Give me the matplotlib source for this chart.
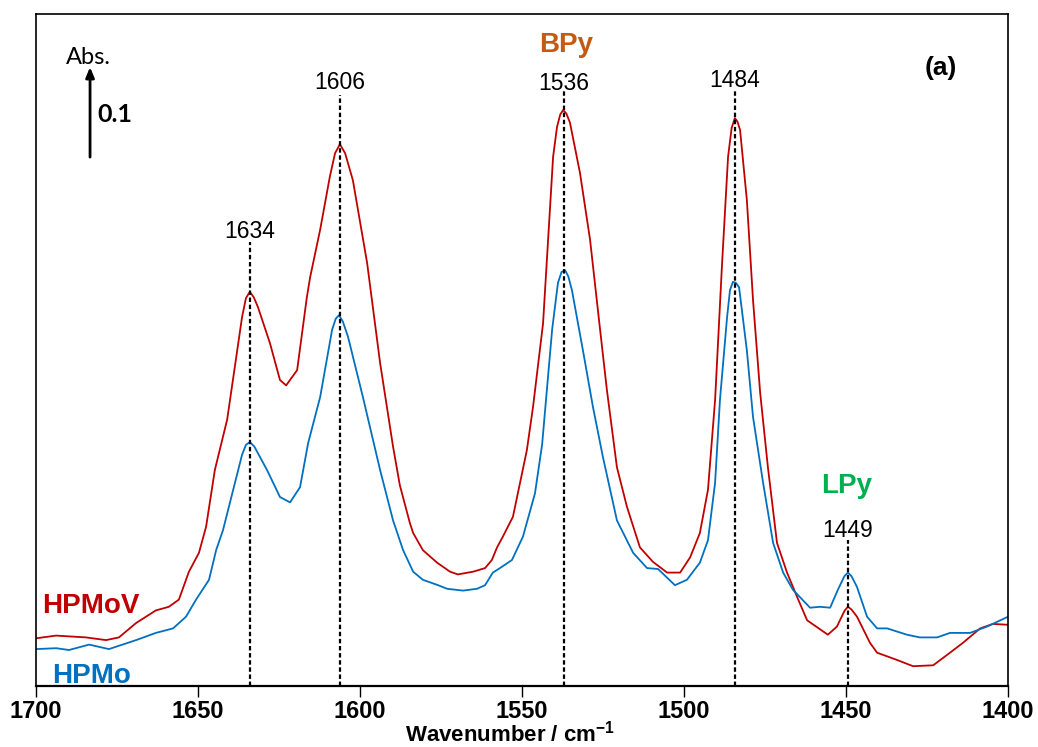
import matplotlib
matplotlib.use("Agg")
import matplotlib.pyplot as plt

# ---------------- data ----------------
wn_hpmov = [1700.0, 1693.8, 1684.6, 1678.4, 1674.4, 1669.1, 1663.0, 1659.0, 1655.9, 1652.8,
            1649.7, 1647.5, 1644.8, 1641.0, 1636.4, 1635.2, 1634.0, 1632.8, 1631.5, 1627.8,
            1624.7, 1622.8, 1619.4, 1616.4, 1615.4, 1612.3, 1609.3, 1607.7, 1606.2, 1604.6,
            1602.2, 1597.8, 1593.8, 1589.8, 1587.7, 1584.6, 1583.6, 1580.6, 1576.2, 1572.2,
            1569.8, 1565.1, 1561.4, 1559.3, 1557.7, 1555.9, 1552.8, 1548.5, 1546.6, 1543.5,
            1540.4, 1539.2, 1538.2, 1537.3, 1536.3, 1535.2, 1532.1, 1529.0, 1525.9, 1523.8,
            1520.7, 1517.6, 1513.6, 1509.6, 1505.2, 1501.2, 1498.1, 1495.1, 1492.6, 1490.4,
            1488.3, 1486.4, 1485.3, 1484.3, 1483.5, 1482.7, 1480.6, 1478.7, 1476.5, 1474.1,
            1471.3, 1468.2, 1465.1, 1462.0, 1455.6, 1452.8, 1450.4, 1449.4, 1448.3, 1446.6,
            1442.6, 1440.4, 1434.3, 1429.3, 1423.1, 1417.9, 1413.9, 1408.6, 1404.6, 1400.0]
abs_hpmov = [0.053, 0.056, 0.054, 0.051, 0.054, 0.070, 0.084, 0.088, 0.096, 0.127,
             0.148, 0.177, 0.240, 0.296, 0.410, 0.431, 0.438, 0.432, 0.421, 0.381,
             0.340, 0.334, 0.351, 0.432, 0.454, 0.507, 0.566, 0.592, 0.602, 0.592,
             0.562, 0.470, 0.359, 0.266, 0.223, 0.181, 0.170, 0.151, 0.137, 0.127,
             0.124, 0.127, 0.131, 0.140, 0.154, 0.166, 0.188, 0.262, 0.310, 0.403,
             0.588, 0.621, 0.635, 0.640, 0.636, 0.626, 0.570, 0.496, 0.396, 0.329,
             0.243, 0.199, 0.154, 0.138, 0.126, 0.126, 0.143, 0.170, 0.218, 0.318,
             0.466, 0.588, 0.620, 0.631, 0.627, 0.618, 0.540, 0.429, 0.326, 0.243,
             0.159, 0.126, 0.099, 0.073, 0.057, 0.066, 0.084, 0.088, 0.085, 0.077,
             0.048, 0.037, 0.029, 0.022, 0.023, 0.037, 0.048, 0.064, 0.069, 0.068]

wn_hpmo = [1700.0, 1693.8, 1689.8, 1683.6, 1677.5, 1669.1, 1663.0, 1657.7, 1653.7, 1650.6,
           1646.6, 1644.4, 1642.3, 1636.4, 1635.2, 1634.0, 1632.6, 1628.7, 1624.7, 1621.6,
           1618.5, 1616.0, 1612.3, 1608.6, 1607.5, 1606.5, 1605.3, 1603.7, 1599.1, 1593.8,
           1589.8, 1586.7, 1583.6, 1580.6, 1575.9, 1573.1, 1568.2, 1563.9, 1561.4, 1559.0,
           1556.8, 1553.1, 1549.7, 1546.0, 1543.8, 1540.7, 1538.9, 1537.8, 1536.7, 1535.7,
           1534.6, 1531.2, 1528.1, 1525.0, 1520.7, 1515.7, 1511.4, 1508.0, 1502.8, 1499.1,
           1495.1, 1492.6, 1490.4, 1488.9, 1486.7, 1485.8, 1484.9, 1484.0, 1483.0, 1480.6,
           1478.7, 1475.6, 1472.5, 1469.4, 1466.4, 1461.1, 1458.0, 1454.9, 1452.5, 1450.5,
           1449.4, 1448.3, 1446.6, 1443.5, 1440.4, 1437.3, 1431.2, 1427.2, 1421.9, 1417.9,
           1411.7, 1406.5, 1400.0]
abs_hpmo = [0.041, 0.042, 0.040, 0.046, 0.041, 0.051, 0.059, 0.064, 0.077, 0.096,
            0.118, 0.151, 0.173, 0.257, 0.268, 0.271, 0.266, 0.240, 0.210, 0.204,
            0.221, 0.270, 0.321, 0.396, 0.408, 0.412, 0.405, 0.388, 0.321, 0.240,
            0.184, 0.151, 0.127, 0.118, 0.112, 0.108, 0.106, 0.108, 0.112, 0.126,
            0.131, 0.140, 0.166, 0.214, 0.268, 0.396, 0.448, 0.460, 0.462, 0.455,
            0.440, 0.373, 0.310, 0.254, 0.184, 0.148, 0.131, 0.130, 0.112, 0.118,
            0.137, 0.162, 0.226, 0.318, 0.410, 0.440, 0.449, 0.448, 0.443, 0.373,
            0.299, 0.226, 0.159, 0.126, 0.107, 0.087, 0.088, 0.087, 0.107, 0.122,
            0.126, 0.122, 0.110, 0.077, 0.064, 0.064, 0.057, 0.054, 0.054, 0.059,
            0.059, 0.066, 0.077]

peak_pos = [1634.0, 1606.2, 1537.0, 1484.3, 1449.4]
peak_labels = ["1634", "1606", "1536", "1484", "1449"]
peak_line_top = [0.493, 0.657, 0.663, 0.663, 0.162]
peak_label_y = [0.498, 0.663, 0.662, 0.666, 0.166]

x_ticks = [1700, 1650, 1600, 1550, 1500, 1450, 1400]

# ---------------- style ----------------
plt.rcParams['font.family'] = ['Liberation Sans', 'DejaVu Sans']
plt.rcParams['mathtext.fontset'] = 'custom'
plt.rcParams['mathtext.rm'] = 'Liberation Sans:bold'
plt.rcParams['mathtext.bf'] = 'Liberation Sans:bold'

RED = '#C00000'
BLUE = '#0070C0'

fig = plt.figure(figsize=(10.38, 7.47), dpi=100)
ax = fig.add_axes([36/1038, 1 - 686/747, 972/1038, 672/747])

ax.plot(wn_hpmov, abs_hpmov, color=RED, lw=1.3)
ax.plot(wn_hpmo, abs_hpmo, color=BLUE, lw=1.3)

for x, top, lab, ly in zip(peak_pos, peak_line_top, peak_labels, peak_label_y):
    ax.plot([x, x], [0, top], color='black', lw=1.6, linestyle=(0, (2.0, 1.2)))
    ax.text(x, ly, lab, ha='center', va='baseline', fontsize=16.5, color='black')

ax.set_xlim(1700, 1400)
ax.set_ylim(0, 672/900)
ax.set_xticks(x_ticks)
ax.set_xticklabels([str(t) for t in x_ticks], fontsize=17, fontweight='bold')
ax.set_yticks([])
ax.tick_params(axis='x', direction='out', length=8, width=1, pad=2)
for s in ['top', 'right', 'left']:
    ax.spines[s].set_linewidth(1.2)
ax.spines['bottom'].set_linewidth(1.6)

ax.set_xlabel(r'Wavenumber / cm$^{\mathbf{-1}}$', fontsize=16, fontweight='bold')
ax.xaxis.set_label_coords((510 - 36) / 972, (686 - 721) / 672)

# annotations
ax.text(0.545, 0.9435, 'BPy', transform=ax.transAxes, ha='center', va='baseline',
        fontsize=20, fontweight='bold', color='#C55A11')
ax.text(0.834, 0.287, 'LPy', transform=ax.transAxes, ha='center', va='baseline',
        fontsize=20, fontweight='bold', color='#00B050')
ax.text(0.931, 0.909, '(a)', transform=ax.transAxes, ha='center', va='baseline',
        fontsize=19, fontweight='bold', color='black')
ax.text(0.0062, 0.1086, 'HPMoV', transform=ax.transAxes, ha='left', va='baseline',
        fontsize=20, fontweight='bold', color=RED)
ax.text(0.0165, 0.0045, 'HPMo', transform=ax.transAxes, ha='left', va='baseline',
        fontsize=20, fontweight='bold', color=BLUE)

# absorbance scale arrow
ax.annotate('', xy=(0.0556, 0.921), xytext=(0.0556, 0.787), xycoords='axes fraction',
            arrowprops=dict(arrowstyle='-|>,head_length=0.6,head_width=0.25', lw=2, color='black',
                            shrinkA=0, shrinkB=0))
ax.text(0.0309, 0.935, 'Abs.', transform=ax.transAxes, ha='left', va='center',
        fontsize=17, family=['Lato', 'DejaVu Sans'], color='black')
ax.text(0.0628, 0.851, '0.1', transform=ax.transAxes, ha='left', va='center',
        fontsize=18, fontweight='bold', family=['Lato', 'DejaVu Sans'], color='black')

fig.savefig('out.png', dpi=100)
